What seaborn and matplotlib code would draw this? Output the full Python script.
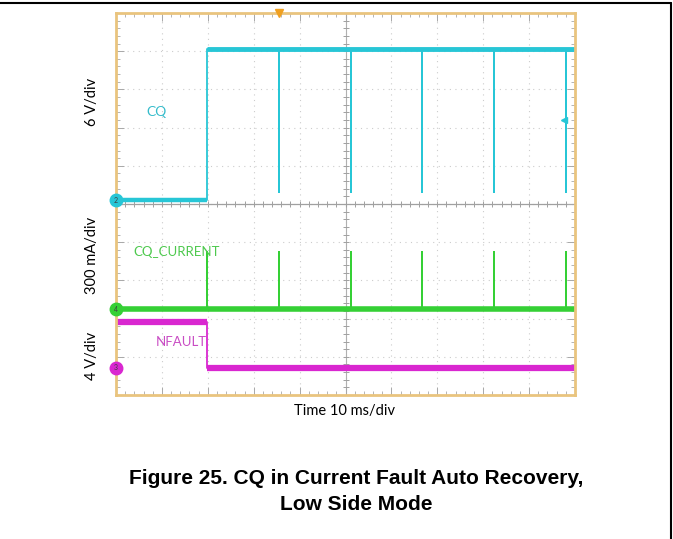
import numpy as np
import matplotlib.pyplot as plt
import seaborn as sns
from matplotlib.lines import Line2D

pulse_t = [1.98, 3.55, 5.12, 6.67, 8.24, 9.80]   # моменты попыток восстановления
cq_low, cq_high, cq_dip = 5.10, 9.06, 5.31       # канал CQ
cur_base, cur_peak = 2.25, 3.74                  # канал CQ_CURRENT
nf_high, nf_low = 1.91, 0.71                     # канал NFAULT
trig_level = 7.2

c_cq = "#27c6d6"
c_cur = "#35d035"
c_nf = "#d927d0"
c_frame = "#e9c47e"

sns.set_style("white")
plt.rcParams['font.family'] = ['Lato', 'DejaVu Sans']
plt.rcParams['text.color'] = 'black'

fig = plt.figure(figsize=(6.73, 5.39), dpi=100)
ax = fig.add_axes([116 / 673, 1 - 395 / 539, 459 / 673, 382 / 539])
ax.set_xlim(0, 10)
ax.set_ylim(0, 10)

# сетка осциллографа
for v in range(1, 10):
    ax.axvline(v, color="#cccccc", lw=0.8, ls=(0, (1, 4)), zorder=0)
    ax.axhline(v, color="#cccccc", lw=0.8, ls=(0, (1, 4)), zorder=0)
ax.axvline(5, color="#b0b0b0", lw=0.8, zorder=0)
ax.axhline(5, color="#a0a0a0", lw=0.9, zorder=0)
minor = np.arange(0.2, 10, 0.2)
ax.plot(minor, np.full_like(minor, 5), ls="none", marker="|", ms=4, color="#a0a0a0", mew=0.7)
ax.plot(np.full_like(minor, 5), minor, ls="none", marker="_", ms=4, color="#a0a0a0", mew=0.7)

ax.set_xticks(range(11))
ax.set_yticks(range(11))
ax.set_xticks(minor, minor=True)
ax.set_yticks(minor, minor=True)
ax.tick_params(which="both", direction="in", top=True, right=True, bottom=True, left=True,
               labelbottom=False, labelleft=False, color="#a8a8a8")
ax.tick_params(which="major", length=6, width=0.7)
ax.tick_params(which="minor", length=3, width=0.6)
for s in ax.spines.values():
    s.set_color(c_frame)
    s.set_linewidth(2)

# CQ
t0 = pulse_t[0]
cq_x = [0, t0, t0]
cq_y = [cq_low, cq_low, cq_high]
for t in pulse_t[1:]:
    cq_x += [t, t, t]
    cq_y += [cq_high, cq_dip, cq_high]
cq_x.append(10)
cq_y.append(cq_high)
sns.lineplot(x=cq_x, y=cq_y, estimator=None, sort=False, color=c_cq, lw=1.3, ax=ax)
ax.hlines(cq_low, 0, t0, color=c_cq, lw=3.2)
ax.hlines(cq_high, t0, 10, color=c_cq, lw=3.5)

# CQ_CURRENT
cur_x = [0]
cur_y = [cur_base]
for t in pulse_t:
    cur_x += [t, t, t]
    cur_y += [cur_base, cur_peak, cur_base]
cur_x.append(10)
cur_y.append(cur_base)
sns.lineplot(x=cur_x, y=cur_y, estimator=None, sort=False, color=c_cur, lw=1.3, ax=ax)
ax.hlines(cur_base, 0, 10, color=c_cur, lw=4)

# NFAULT
nf_x = [0, t0, t0, 10]
nf_y = [nf_high, nf_high, nf_low, nf_low]
sns.lineplot(x=nf_x, y=nf_y, estimator=None, sort=False, color=c_nf, lw=1.3, ax=ax)
ax.hlines(nf_high, 0, t0, color=c_nf, lw=4.5)
ax.hlines(nf_low, t0, 10, color=c_nf, lw=4.5)

# маркеры каналов
for lvl, col, num in [(cq_low, c_cq, "2"), (cur_base, c_cur, "4"), (nf_low, c_nf, "3")]:
    ax.plot(0, lvl, marker="o", ms=9, color=col, clip_on=False, zorder=5)
    ax.text(0, lvl, num, fontsize=5, color="#404040", ha="center", va="center", zorder=6)
ax.plot(9.75, trig_level, marker="<", ms=4, color=c_cq, clip_on=False)
ax.plot(pulse_t[1], 10, marker="v", ms=6, color="#f0a020", clip_on=False, zorder=6)

# подписи каналов
ax.text(0.89, 7.41, "CQ", color="#35bccb", fontsize=10, ha="center", va="center")
ax.text(0.37, 3.74, "CQ_CURRENT", color="#4ec94e", fontsize=9.5, ha="left", va="center")
ax.text(1.42, 1.39, "NFAULT", color="#c94cc4", fontsize=9.5, ha="center", va="center")

fig.text(92 / 673, 1 - 102 / 539, "6 V/div", rotation=90, fontsize=10.5, ha="center", va="center")
fig.text(92 / 673, 1 - 255 / 539, "300 mA/div", rotation=90, fontsize=10.5, ha="center", va="center")
fig.text(92 / 673, 1 - 356 / 539, "4 V/div", rotation=90, fontsize=10.5, ha="center", va="center")
fig.text(345 / 673, 1 - 411 / 539, "Time 10 ms/div", fontsize=10.5, ha="center", va="center")

title_font = ['Liberation Sans', 'DejaVu Sans']
fig.text(356 / 673, 1 - 479 / 539, "Figure 25. CQ in Current Fault Auto Recovery,",
         fontsize=15, fontweight="bold", family=title_font, ha="center", va="center")
fig.text(356 / 673, 1 - 504 / 539, "Low Side Mode",
         fontsize=15, fontweight="bold", family=title_font, ha="center", va="center")

# рамка страницы
fig.add_artist(Line2D([0, 671 / 673], [1 - 3 / 539, 1 - 3 / 539], color="black", lw=1.5))
fig.add_artist(Line2D([671 / 673, 671 / 673], [0, 1 - 3 / 539], color="black", lw=1.5))

plt.savefig("out.png", dpi=100)
